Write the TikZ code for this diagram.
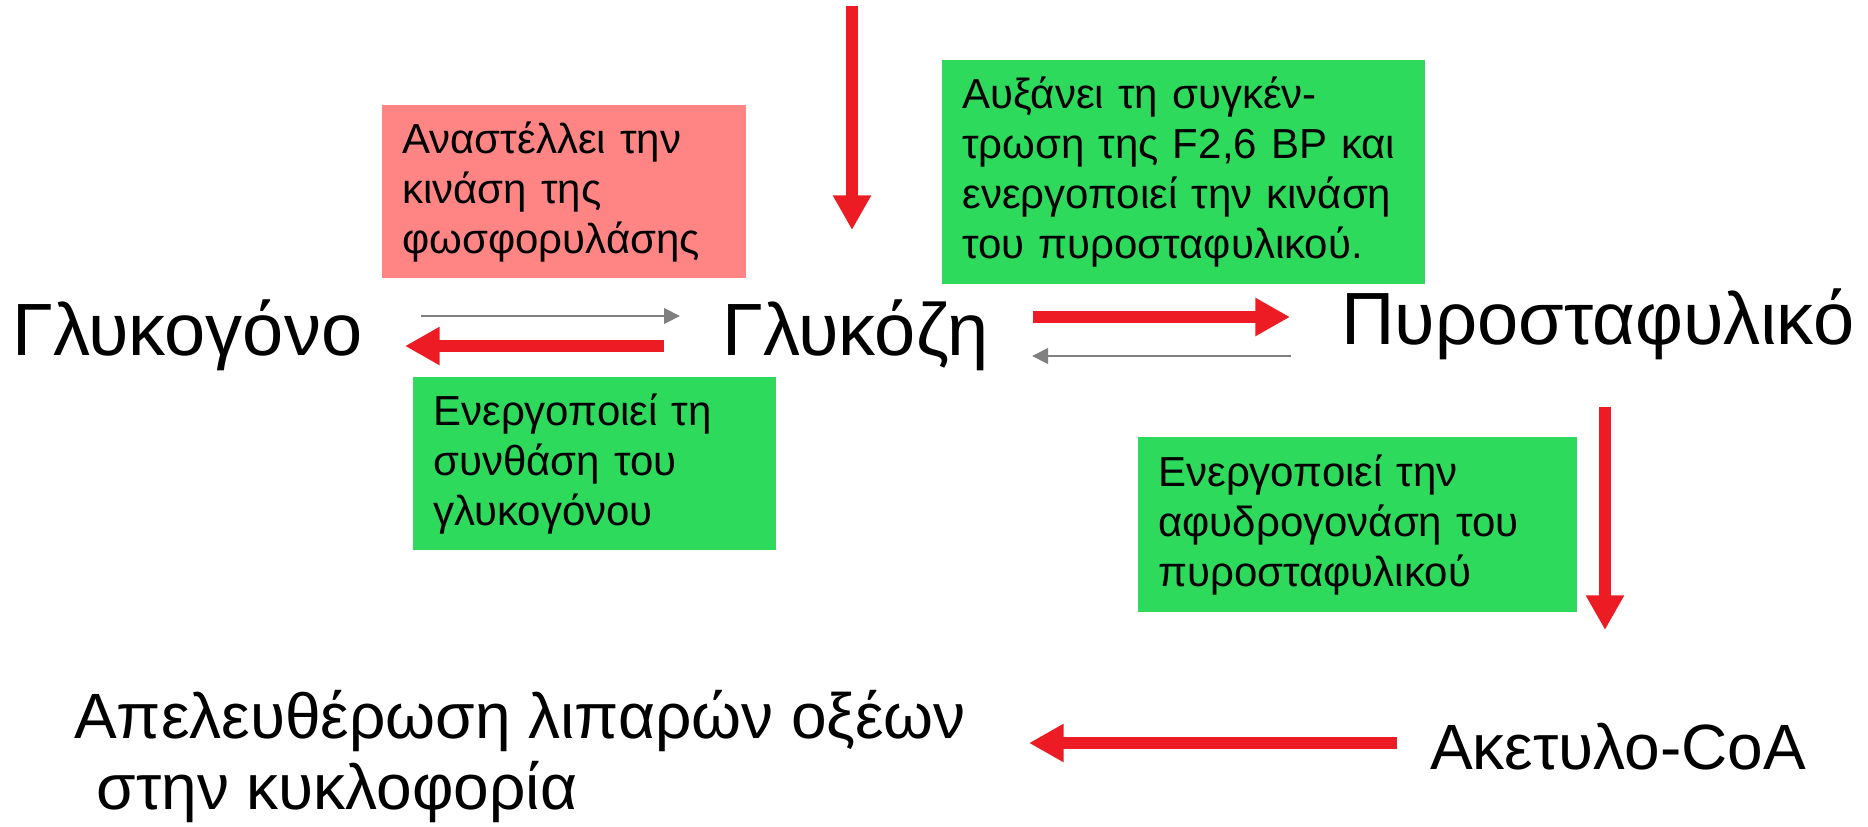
\documentclass[tikz,border=0pt]{standalone}
\usepackage{fontspec}
\setmainfont{Liberation Sans}
\usetikzlibrary{arrows.meta}
\definecolor{arrred}{RGB}{237,28,36}
\definecolor{arrgrey}{RGB}{128,128,128}
\definecolor{boxgreen}{RGB}{45,218,92}
\definecolor{boxpink}{RGB}{255,133,133}
\newcommand{\bigtxt}{\fontsize{55.5}{60}\selectfont}
\newcommand{\midtxt}{\fontsize{48}{53}\selectfont}
\newcommand{\boxtxt}{\fontsize{31.5}{37.5}\selectfont}

\begin{document}
\begin{tikzpicture}[x=0.75pt,y=-0.75pt,
  redarrow/.style={draw=arrred, line width=9pt, -{Triangle[length=26pt,width=27pt]}},
  greyarrow/.style={draw=arrgrey, line width=2.2pt, -{Triangle[length=12pt,width=11.5pt]}},
  infobox/.style={anchor=north west, inner xsep=15pt, inner ysep=0pt, align=left, font=\boxtxt},
  label/.style={anchor=base west, inner sep=0pt, font=\bigtxt}]
\useasboundingbox (0,0) rectangle (1868,826);

% substances
\node[label] (glykogono) at (12,355) {Γλυκογόνο};
\node[label] (glykozi) at (722,355) {Γλυκόζη};
\node[label] (pyro) at (1341,344) {Πυροσταφυλικό};
\node[label, font=\midtxt] (acetyl) at (1430,769) {Ακετυλο-CoA};
\node[label, font=\midtxt, align=left] (lipara) at (74,809)
  {Απελευθέρωση λιπαρών οξέων\\\hspace*{0.35em}στην κυκλοφορία};

% effect boxes
\node[infobox, fill=boxpink, text width=243pt, minimum height=129.75pt] (anastelei) at (382,105)
  {Αναστέλλει την\\κινάση της\\φωσφορυλάσης};
\node[infobox, fill=boxgreen, text width=332.25pt, minimum height=168pt] (afxanei) at (942,60)
  {Αυξάνει τη συγκέν-\\τρωση της F2,6 BP και\\ενεργοποιεί την κινάση\\του πυροσταφυλικού.};
\node[infobox, fill=boxgreen, text width=242.25pt, minimum height=129.75pt] (synthasi) at (413,377)
  {Ενεργοποιεί τη\\συνθάση του\\γλυκογόνου};
\node[infobox, fill=boxgreen, text width=299.25pt, minimum height=131.25pt] (afydro) at (1138,437)
  {Ενεργοποιεί την\\αφυδρογονάση του\\πυροσταφυλικού};

% arrow ends
\coordinate (in-top) at (852,6);
\coordinate (in-end) at (852,230);
\coordinate (gl-a) at (421,316);
\coordinate (gl-b) at (680,316);
\coordinate (gl-c) at (664,346);
\coordinate (gl-d) at (405,346);
\coordinate (py-a) at (1033,317);
\coordinate (py-b) at (1290,317);
\coordinate (py-c) at (1291,356);
\coordinate (py-d) at (1032,356);
\coordinate (ac-a) at (1605,407);
\coordinate (ac-b) at (1605,630);
\coordinate (li-a) at (1397,743);
\coordinate (li-b) at (1029,743);

% arrows
\draw[redarrow] (in-top) -- (in-end);
\draw[greyarrow] (gl-a) -- (gl-b);
\draw[redarrow] (gl-c) -- (gl-d);
\draw[redarrow] (py-a) -- (py-b);
\draw[greyarrow] (py-c) -- (py-d);
\draw[redarrow] (ac-a) -- (ac-b);
\draw[redarrow] (li-a) -- (li-b);
\end{tikzpicture}
\end{document}
